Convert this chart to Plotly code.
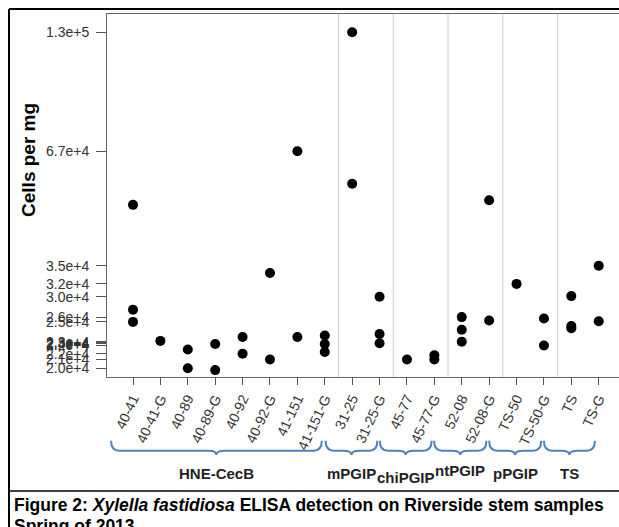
import plotly.graph_objects as go

# ---- data ----
categories = ["40-41", "40-41-G", "40-89", "40-89-G", "40-92", "40-92-G", "41-151", "41-151-G",
              "31-25", "31-25-G", "45-77", "45-77-G", "52-08", "52-08-G", "TS-50", "TS-50-G",
              "TS", "TS-G"]
cells_per_mg = [
    [49700, 27700, 25900],
    [23300],
    [22200, 20000],
    [22900, 19800],
    [23800, 21700],
    [34000, 21000],
    [67000, 23800],
    [24000, 22900, 21900],
    [130000, 55900],
    [29800, 24200, 23000],
    [21000],
    [21500, 21000],
    [26600, 24800, 23200],
    [51000, 26100],
    [32000],
    [26400, 22700],
    [29900, 25300, 25000],
    [35400, 26000],
]
y_tickvals = [130000, 67000, 35400, 32000, 29800, 26600, 25900, 23200, 23050, 22900, 22700,
              21700, 21000, 20000]
y_ticktext = ["1.3e+5", "6.7e+4", "3.5e+4", "3.2e+4", "3.0e+4", "2.6e+4", "2.5e+4", "2.3e+4",
              "2.3e+4", "2.4e+4", "2.2e+4", "2.2e+4", "2.1e+4", "2.0e+4"]
group_names = ["HNE-CecB", "mPGIP", "chiPGIP", "ntPGIP", "pPGIP", "TS"]
group_brace_start = [-0.80, 7.03, 9.01, 10.99, 13.00, 15.00]
group_brace_end = [6.89, 8.92, 10.90, 12.90, 14.90, 16.86]
group_label_shift = [0, 0, -0.012, 0.006, 0, 0]
separators = [7.5, 9.5, 11.5, 13.5, 15.5]
caption_line1 = "<b>Figure 2: <i>Xylella fastidiosa</i> ELISA detection on Riverside stem samples</b>"
caption_line2 = "<b>Spring of 2013</b>"

xs, ys = [], []
for c, vals in zip(categories, cells_per_mg):
    for v in vals:
        xs.append(c)
        ys.append(v)

fig = go.Figure()
fig.add_trace(go.Scatter(x=xs, y=ys, mode="markers",
                         marker=dict(color="black", size=10), showlegend=False))

FONT = "Liberation Sans, Arial, sans-serif"
shapes = []
for s in separators:
    shapes.append(dict(type="line", xref="x", yref="paper", x0=s, x1=s, y0=0, y1=1,
                       line=dict(color="#cfcfcf", width=1), layer="below"))

# braces
ytop, ymid, ybot = -0.1755, -0.2030, -0.2149
annotations = []
for name, a, b, sh in zip(group_names, group_brace_start, group_brace_end, group_label_shift):
    c = (a + b) / 2
    d = 0.30
    path = (f"M {a},{ytop} Q {a},{ymid} {a+d},{ymid} L {c-d},{ymid} Q {c},{ymid} {c},{ybot} "
            f"Q {c},{ymid} {c+d},{ymid} L {b-d},{ymid} Q {b},{ymid} {b},{ytop}")
    shapes.append(dict(type="path", xref="x", yref="paper", path=path,
                       line=dict(color="#4f81bd", width=2)))
    annotations.append(dict(text=f"<b>{name}</b>", x=c, y=-0.2645 + sh, xref="x",
                            yref="paper", showarrow=False, xanchor="center", yanchor="middle",
                            font=dict(family=FONT, size=15, color="#222")))

# frame lines
shapes.append(dict(type="line", xref="paper", yref="paper", x0=-0.1914, x1=-0.1914,
                   y0=1.0138, y1=-0.45, line=dict(color="black", width=2)))
shapes.append(dict(type="line", xref="paper", yref="paper", x0=-0.1914, x1=1.05,
                   y0=1.0138, y1=1.0138, line=dict(color="black", width=2)))
shapes.append(dict(type="line", xref="paper", yref="paper", x0=-0.1914, x1=1.05,
                   y0=-0.314, y1=-0.314, line=dict(color="black", width=1.5)))

annotations.append(dict(text="<b>Cells per mg</b>", x=-0.1523, y=0.598, xref="paper",
                        yref="paper", textangle=-90, showarrow=False,
                        xanchor="center", yanchor="middle",
                        font=dict(family=FONT, size=19, color="black")))
annotations.append(dict(text=caption_line1, x=-0.1855, y=-0.3526, xref="paper", yref="paper",
                        showarrow=False, xanchor="left", yanchor="middle",
                        font=dict(family=FONT, size=17.5, color="black")))
annotations.append(dict(text=caption_line2, x=-0.1855, y=-0.4105, xref="paper", yref="paper",
                        showarrow=False, xanchor="left", yanchor="middle",
                        font=dict(family=FONT, size=17.5, color="black")))

fig.update_layout(
    width=619, height=527,
    margin=dict(l=107, r=0, t=14, b=150),
    paper_bgcolor="white", plot_bgcolor="white",
    shapes=shapes, annotations=annotations,
    xaxis=dict(type="category", categoryorder="array", categoryarray=categories,
               range=[-0.949, 17.74], showgrid=False, zeroline=False,
               showline=True, linecolor="#666", mirror=True, linewidth=1,
               ticks="outside", ticklen=7, tickcolor="#555", tickangle=-65,
               tickfont=dict(family=FONT, size=14, color="#333")),
    yaxis=dict(type="log", range=[4.280, 5.158], showgrid=False, zeroline=False,
               showline=True, linecolor="#666", mirror=True, linewidth=1,
               ticks="outside", ticklen=10, tickcolor="#555", ticklabelstandoff=4,
               tickvals=y_tickvals, ticktext=y_ticktext,
               tickfont=dict(family=FONT, size=14, color="#333")),
)

fig.write_html("out.html")
